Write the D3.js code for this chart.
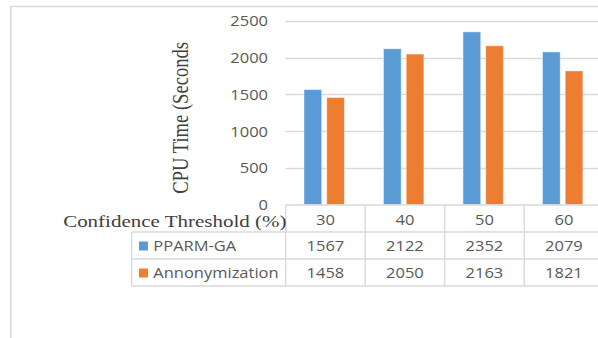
<!DOCTYPE html>
<html>
<head>
<meta charset="utf-8">
<script src="https://cdn.jsdelivr.net/npm/d3@7"></script>
<style>
  html, body { margin: 0; padding: 0; background: #fff; }
  svg { display: block; }
</style>
</head>
<body>
<svg id="chart" width="598" height="338"></svg>
<script>
// Chart data
const categories = ["30", "40", "50", "60"];
const seriesNames = ["PPARM-GA", "Annonymization"];
const pparmValues = [1567, 2122, 2352, 2079];
const anonValues = [1458, 2050, 2163, 1821];
const yTicks = [0, 500, 1000, 1500, 2000, 2500];
const colors = ["#5b9bd5", "#ed7d31"];

const seriesValues = [pparmValues, anonValues];

const svg = d3.select("#chart");
const W = 598, H = 338;
const gridColor = "#d9d9d9";
const textColor = "#595959";
const sansFont = "'Open Sans', sans-serif";
const serifFont = "'Liberation Serif', 'Times New Roman', serif";
const SX = 1.1;   // horizontal glyph stretch for table / axis text

// Outer frame (top and left edges visible)
svg.append("path")
  .attr("d", `M10.8,${H + 5} L10.8,6.5 L${W + 5},6.5`)
  .attr("fill", "none")
  .attr("stroke", gridColor)
  .attr("stroke-width", 1.6);

// Scales
const x = d3.scaleBand().domain(categories).range([285.7, 603.7]).padding(0);
const xs = d3.scaleBand().domain(seriesNames).range([18.3, 58.7]).paddingInner(0.22);
const y = d3.scaleLinear().domain([0, 2500]).range([204.7, 21]);

// Helper: place text with an anchor and horizontal stretch
function label(parent, txt, px, py, opts) {
  const g = parent.append("g")
    .attr("transform", `translate(${px},${py}) scale(${opts.sx || 1},1)` + (opts.rotate ? ` rotate(${opts.rotate})` : ""));
  g.append("text")
    .attr("x", 0).attr("y", 0)
    .attr("text-anchor", opts.anchor || "start")
    .attr("dy", opts.dy || 0)
    .attr("font-family", opts.font || sansFont)
    .attr("font-size", opts.size || 15)
    .attr("fill", opts.color || textColor)
    .text(txt);
  return g;
}

// Horizontal gridlines
svg.append("g").selectAll("line")
  .data(yTicks.filter(d => d > 0))
  .join("line")
  .attr("x1", x.range()[0]).attr("x2", W + 5)
  .attr("y1", d => Math.round(y(d)) + 0.5).attr("y2", d => Math.round(y(d)) + 0.5)
  .attr("stroke", gridColor).attr("stroke-width", 1.4);

// Y tick labels
const yLab = svg.append("g");
yTicks.forEach(t => label(yLab, String(t), 268, y(t), { anchor: "end", dy: "0.36em", size: 15, sx: SX }));

// Y-axis title
label(svg, "CPU Time (Seconds", 187.5, y(1250) + 5, { anchor: "middle", font: serifFont, size: 18.6, sx: 1.2, rotate: -90, color: "#404040" });

// Bars
const groups = svg.append("g").selectAll("g")
  .data(categories)
  .join("g")
  .attr("transform", d => `translate(${x(d)},0)`);

groups.selectAll("rect")
  .data((d, i) => seriesNames.map((s, k) => ({ s, k, v: seriesValues[k][i] })))
  .join("rect")
  .attr("x", d => xs(d.s))
  .attr("width", xs.bandwidth())
  .attr("y", d => y(d.v))
  .attr("height", d => y(0) - y(d.v))
  .attr("fill", d => colors[d.k])
  .attr("stroke", "rgba(255,255,255,0.45)")
  .attr("stroke-width", 1);

// Data table below the plot
const table = svg.append("g").attr("stroke", gridColor).attr("stroke-width", 1.4).attr("fill", "none");
const rowLines = [205, 232, 259, 286];
const legendLeft = 131.7;
const plotLeft = x.range()[0];

// Axis line / header top
table.append("line").attr("x1", plotLeft).attr("x2", W + 5).attr("y1", rowLines[0]).attr("y2", rowLines[0]);
// Row separators
rowLines.slice(1).forEach(ly => {
  table.append("line").attr("x1", legendLeft).attr("x2", W + 5).attr("y1", ly).attr("y2", ly);
});
// Legend column left border
table.append("line").attr("x1", legendLeft).attr("x2", legendLeft).attr("y1", rowLines[1]).attr("y2", rowLines[3]);
// Column borders (category boundaries, with small tick above axis)
categories.forEach(c => {
  table.append("line").attr("x1", x(c)).attr("x2", x(c)).attr("y1", rowLines[0]).attr("y2", rowLines[3]);
});

// Header: category labels and title
const txt = svg.append("g");
label(txt, "Confidence Threshold (%)", 286.5, 227, { anchor: "end", font: serifFont, size: 17.5, sx: 1.2, color: "#404040" });
categories.forEach(c => label(txt, c, x(c) + x.bandwidth() / 2, 224.5, { anchor: "middle", size: 15, sx: SX }));

// Series rows
const rowBaselines = [251, 278];
seriesNames.forEach((s, k) => {
  const by = rowBaselines[k];
  svg.append("rect")
    .attr("x", 139).attr("y", by - 9.5)
    .attr("width", 9).attr("height", 9)
    .attr("fill", colors[k]);
  label(txt, s, 153.3, by, { anchor: "start", size: 15, sx: SX });
  categories.forEach((c, i) => {
    label(txt, String(seriesValues[k][i]), x(c) + x.bandwidth() / 2, by, { anchor: "middle", size: 15, sx: SX });
  });
});
</script>
</body>
</html>
